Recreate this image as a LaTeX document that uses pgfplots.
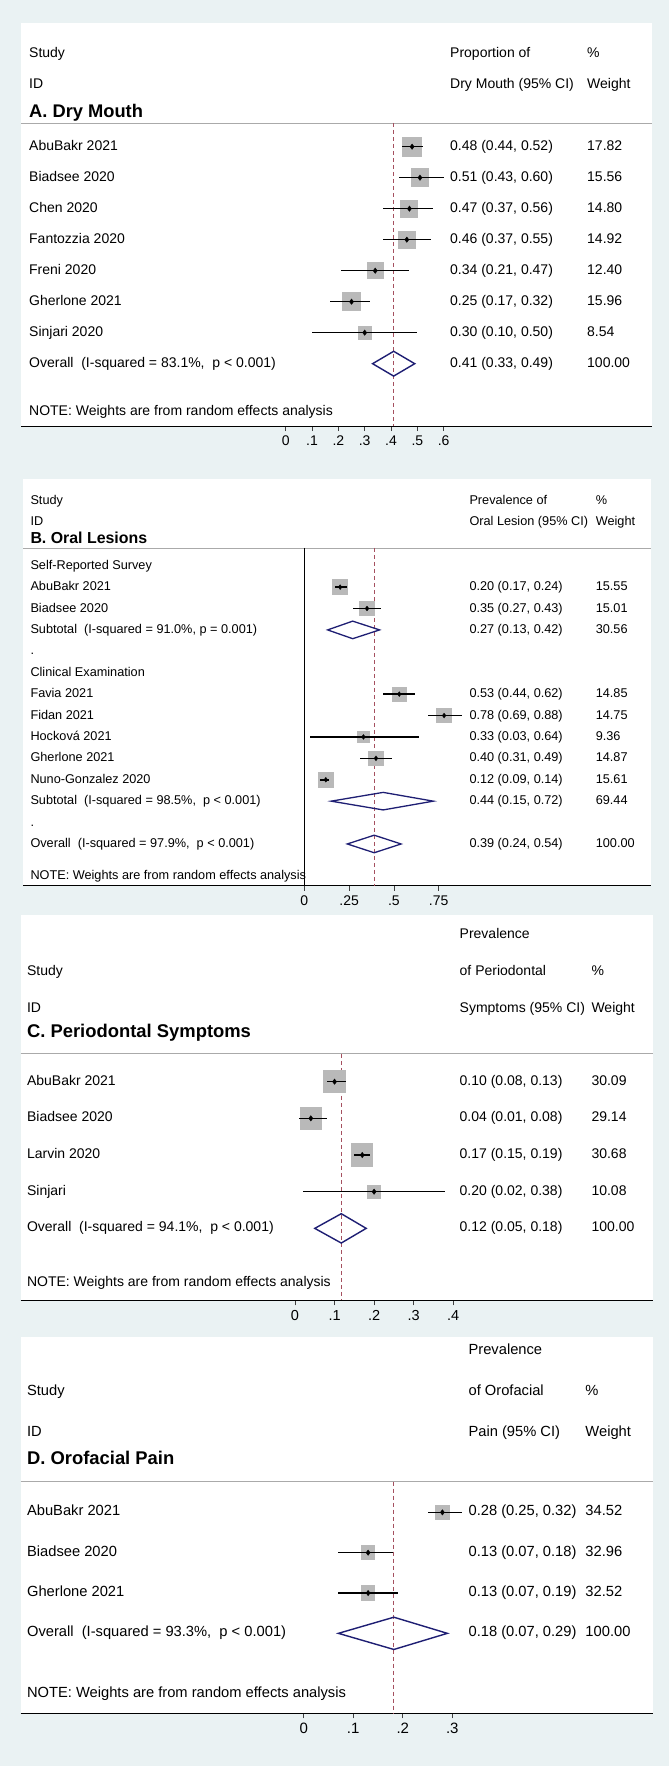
\documentclass[border=0pt]{standalone}
\usepackage{fontspec}
\setmainfont{Liberation Sans}
\usepackage{pgfplots}
\usepackage{pgfplotstable}
\pgfplotsset{compat=1.18}
\definecolor{bgc}{RGB}{234,242,243}
\definecolor{boxgray}{RGB}{185,185,185}
\definecolor{navyd}{RGB}{30,30,115}
\definecolor{refred}{RGB}{165,80,95}
\definecolor{hdrgray}{RGB}{170,170,170}

\pgfplotstableread{
row est lo hi w
1 0.48 0.44 0.52 17.82
2 0.51 0.43 0.60 15.56
3 0.47 0.37 0.56 14.80
4 0.46 0.37 0.55 14.92
5 0.34 0.21 0.47 12.40
6 0.25 0.17 0.32 15.96
7 0.30 0.10 0.50 8.54
}\tA
\pgfplotstableread{
row est lo hi w
2 0.20 0.17 0.24 15.55
3 0.35 0.27 0.43 15.01
7 0.53 0.44 0.62 14.85
8 0.78 0.69 0.88 14.75
9 0.33 0.03 0.64 9.36
10 0.40 0.31 0.49 14.87
11 0.12 0.09 0.14 15.61
}\tB
\pgfplotstableread{
row est lo hi w
1 0.10 0.08 0.13 30.09
2 0.04 0.01 0.08 29.14
3 0.17 0.15 0.19 30.68
4 0.20 0.02 0.38 10.08
}\tC
\pgfplotstableread{
row est lo hi w
1 0.28 0.25 0.32 34.52
2 0.13 0.07 0.18 32.96
3 0.13 0.07 0.19 32.52
}\tD

\newcommand\fA{\fontsize{14}{16}\selectfont}
\newcommand\hA{\fontsize{18.3}{20}\selectfont\bfseries}
\newcommand\fB{\fontsize{12.7}{14}\selectfont}
\newcommand\hB{\fontsize{15.9}{18}\selectfont\bfseries}
\newcommand\fC{\fontsize{14}{16}\selectfont}
\newcommand\hC{\fontsize{18.4}{20}\selectfont\bfseries}
\newcommand\fD{\fontsize{14.7}{16}\selectfont}
\newcommand\hD{\fontsize{18.4}{20}\selectfont\bfseries}

\pgfplotsset{
  fp/.style={scale only axis, clip=false, clip marker paths=true,
    axis x line=bottom, axis y line=none,
    axis line style={-, black, line width=1pt},
    ytick=\empty, tick align=outside,
    major tick length=5pt,
    xtick style={black!75, line width=0.8pt},
    axis background/.style={fill=white},
    anchor=south west,
    xticklabel style={font=\fontsize{14}{14}\selectfont, yshift=-1.5pt}},
  boxes/.style={scatter, only marks, mark=square*,
    scatter/use mapped color={draw=boxgray, fill=boxgray},
    mark options={line width=0pt},
    visualization depends on={#1*sqrt(\thisrow{w}) \as \msz},
    scatter/@pre marker code/.append style={/tikz/mark size=\msz}},
  cis/.style={only marks, mark=diamond*, mark size=2.7pt, black,
    error bars/x dir=both, error bars/x explicit, error bars/error mark=none,
    error bars/error bar style={line width=1.5pt, black}},
}
\tikzset{txt/.style={anchor=west, inner sep=0pt, text height=0.72em, text depth=0pt}}

\begin{document}
\begin{tikzpicture}
\fill[bgc, use as bounding box] (0,0) rectangle (669pt,-1766pt);

% ---------------- Panel A ----------------
\begin{axis}[fp, at={(21pt,-426pt)}, width=631pt, height=403pt,
  xmin=-1.0053, xmax=1.3912, ymin=-10.01, ymax=2.99,
  xtick={0,0.1,0.2,0.3,0.4,0.5,0.6}, xticklabels={0,.1,.2,.3,.4,.5,.6}]
\addplot[hdrgray, line width=0.8pt] coordinates {(-1.0053,-0.235) (1.3912,-0.235)};
\addplot[refred, line width=0.9pt, dash pattern=on 4pt off 3pt] coordinates {(0.41,-0.235) (0.41,-10.01)};
\addplot[boxes=2.215] table[x=est, y expr=-\thisrow{row}] {\tA};
\addplot[cis] table[x=est, y expr=-\thisrow{row}, x error plus expr=\thisrow{hi}-\thisrow{est}, x error minus expr=\thisrow{est}-\thisrow{lo}] {\tA};
\addplot[navyd, line width=1.4pt, line join=miter] coordinates {(0.33,-8) (0.41,-7.6) (0.49,-8) (0.41,-8.4)} -- cycle;
\begin{scope}[every node/.style={txt, font=\fA}]
\node at (axis cs:-0.975,2) {Study};
\node at (axis cs:-0.975,1) {ID};
\node[font=\hA] at (axis cs:-0.975,0.055) {A. Dry Mouth};
\node at (axis cs:0.624,2) {Proportion of};
\node at (axis cs:0.624,1) {Dry Mouth (95\% CI)};
\node at (axis cs:1.1443,2) {\%};
\node at (axis cs:1.1443,1) {Weight};
\node at (axis cs:-0.975,-1) {AbuBakr 2021};
\node at (axis cs:-0.975,-2) {Biadsee 2020};
\node at (axis cs:-0.975,-3) {Chen 2020};
\node at (axis cs:-0.975,-4) {Fantozzia 2020};
\node at (axis cs:-0.975,-5) {Freni 2020};
\node at (axis cs:-0.975,-6) {Gherlone 2021};
\node at (axis cs:-0.975,-7) {Sinjari 2020};
\node at (axis cs:-0.975,-8) {Overall~~(I-squared = 83.1\%,~~p < 0.001)};
\node at (axis cs:-0.975,-9.55) {NOTE: Weights are from random effects analysis};
\node at (axis cs:0.624,-1) {0.48 (0.44, 0.52)};
\node at (axis cs:0.624,-2) {0.51 (0.43, 0.60)};
\node at (axis cs:0.624,-3) {0.47 (0.37, 0.56)};
\node at (axis cs:0.624,-4) {0.46 (0.37, 0.55)};
\node at (axis cs:0.624,-5) {0.34 (0.21, 0.47)};
\node at (axis cs:0.624,-6) {0.25 (0.17, 0.32)};
\node at (axis cs:0.624,-7) {0.30 (0.10, 0.50)};
\node at (axis cs:0.624,-8) {0.41 (0.33, 0.49)};
\node at (axis cs:1.1443,-1) {17.82};
\node at (axis cs:1.1443,-2) {15.56};
\node at (axis cs:1.1443,-3) {14.80};
\node at (axis cs:1.1443,-4) {14.92};
\node at (axis cs:1.1443,-5) {12.40};
\node at (axis cs:1.1443,-6) {15.96};
\node at (axis cs:1.1443,-7) {8.54};
\node at (axis cs:1.1443,-8) {100.00};
\end{scope}
\end{axis}

% ---------------- Panel B ----------------
\begin{axis}[fp, at={(23.5pt,-885.7pt)}, width=627.5pt, height=406.7pt,
  xmin=-1.567, xmax=1.9347, ymin=-15.95, ymax=3.05,
  xtick={0,0.25,0.5,0.75}, xticklabels={0,.25,.5,.75}]
\addplot[hdrgray, line width=0.8pt] coordinates {(-1.567,-0.17) (1.9347,-0.17)};
\addplot[black, line width=1pt] coordinates {(0,-0.17) (0,-15.95)};
\addplot[refred, line width=0.9pt, dash pattern=on 4pt off 3pt] coordinates {(0.39,-0.17) (0.39,-15.95)};
\addplot[boxes=1.85] table[x=est, y expr=-\thisrow{row}] {\tB};
\addplot[cis, mark size=2.4pt] table[x=est, y expr=-\thisrow{row}, x error plus expr=\thisrow{hi}-\thisrow{est}, x error minus expr=\thisrow{est}-\thisrow{lo}] {\tB};
\addplot[navyd, line width=1.3pt, line join=miter] coordinates {(0.13,-4) (0.27,-3.59) (0.42,-4) (0.27,-4.41)} -- cycle;
\addplot[navyd, line width=1.3pt, line join=miter] coordinates {(0.15,-12) (0.44,-11.59) (0.72,-12) (0.44,-12.41)} -- cycle;
\addplot[navyd, line width=1.3pt, line join=miter] coordinates {(0.24,-14) (0.39,-13.59) (0.54,-14) (0.39,-14.41)} -- cycle;
\begin{scope}[every node/.style={txt, font=\fB}]
\node at (axis cs:-1.529,2.02) {Study};
\node at (axis cs:-1.529,1.04) {ID};
\node[font=\hB] at (axis cs:-1.529,0.2) {B. Oral Lesions};
\node at (axis cs:0.9208,2.02) {Prevalence of};
\node at (axis cs:0.9208,1.04) {Oral Lesion (95\% CI)};
\node at (axis cs:1.6256,2.02) {\%};
\node at (axis cs:1.6256,1.04) {Weight};
\node at (axis cs:-1.529,-1) {Self-Reported Survey};
\node at (axis cs:-1.529,-2) {AbuBakr 2021};
\node at (axis cs:-1.529,-3) {Biadsee 2020};
\node at (axis cs:-1.529,-4) {Subtotal~~(I-squared = 91.0\%, p = 0.001)};
\node at (axis cs:-1.529,-5) {.};
\node at (axis cs:-1.529,-6) {Clinical Examination};
\node at (axis cs:-1.529,-7) {Favia 2021};
\node at (axis cs:-1.529,-8) {Fidan 2021};
\node at (axis cs:-1.529,-9) {Hocková 2021};
\node at (axis cs:-1.529,-10) {Gherlone 2021};
\node at (axis cs:-1.529,-11) {Nuno-Gonzalez 2020};
\node at (axis cs:-1.529,-12) {Subtotal~~(I-squared = 98.5\%,~~p < 0.001)};
\node at (axis cs:-1.529,-13) {.};
\node at (axis cs:-1.529,-14) {Overall~~(I-squared = 97.9\%,~~p < 0.001)};
\node at (axis cs:-1.529,-15.47) {NOTE: Weights are from random effects analysis};
\node at (axis cs:0.9208,-2) {0.20 (0.17, 0.24)};
\node at (axis cs:0.9208,-3) {0.35 (0.27, 0.43)};
\node at (axis cs:0.9208,-4) {0.27 (0.13, 0.42)};
\node at (axis cs:0.9208,-7) {0.53 (0.44, 0.62)};
\node at (axis cs:0.9208,-8) {0.78 (0.69, 0.88)};
\node at (axis cs:0.9208,-9) {0.33 (0.03, 0.64)};
\node at (axis cs:0.9208,-10) {0.40 (0.31, 0.49)};
\node at (axis cs:0.9208,-11) {0.12 (0.09, 0.14)};
\node at (axis cs:0.9208,-12) {0.44 (0.15, 0.72)};
\node at (axis cs:0.9208,-14) {0.39 (0.24, 0.54)};
\node at (axis cs:1.6256,-2) {15.55};
\node at (axis cs:1.6256,-3) {15.01};
\node at (axis cs:1.6256,-4) {30.56};
\node at (axis cs:1.6256,-7) {14.85};
\node at (axis cs:1.6256,-8) {14.75};
\node at (axis cs:1.6256,-9) {9.36};
\node at (axis cs:1.6256,-10) {14.87};
\node at (axis cs:1.6256,-11) {15.61};
\node at (axis cs:1.6256,-12) {69.44};
\node at (axis cs:1.6256,-14) {100.00};
\end{scope}
\end{axis}

% ---------------- Panel C ----------------
\begin{axis}[fp, at={(20.5pt,-1300.3pt)}, width=632.2pt, height=385.3pt,
  xmin=-0.694, xmax=0.9044, ymin=-6.962, ymax=3.545,
  xtick={0,0.1,0.2,0.3,0.4}, xticklabels={0,.1,.2,.3,.4},
  xticklabel style={font=\fontsize{14.5}{14.5}\selectfont}]
\addplot[hdrgray, line width=0.8pt] coordinates {(-0.694,-0.24) (0.9044,-0.24)};
\addplot[refred, line width=0.9pt, dash pattern=on 4pt off 3pt] coordinates {(0.117,-0.24) (0.117,-6.962)};
\addplot[boxes=1.925, mark options={line width=0pt, yscale=1.07}] table[x=est, y expr=-\thisrow{row}] {\tC};
\addplot[cis] table[x=est, y expr=-\thisrow{row}, x error plus expr=\thisrow{hi}-\thisrow{est}, x error minus expr=\thisrow{est}-\thisrow{lo}] {\tC};
\addplot[navyd, line width=1.4pt, line join=miter] coordinates {(0.05,-5) (0.117,-4.6) (0.18,-5) (0.117,-5.4)} -- cycle;
\begin{scope}[every node/.style={txt, font=\fC}]
\node at (axis cs:0.4159,3) {Prevalence};
\node at (axis cs:-0.6779,2) {Study};
\node at (axis cs:0.4159,2) {of Periodontal};
\node at (axis cs:0.7492,2) {\%};
\node at (axis cs:-0.6779,0.98) {ID};
\node at (axis cs:0.4159,0.98) {Symptoms (95\% CI)};
\node at (axis cs:0.7492,0.98) {Weight};
\node[font=\hC] at (axis cs:-0.6779,0.29) {C. Periodontal Symptoms};
\node at (axis cs:-0.6779,-1) {AbuBakr 2021};
\node at (axis cs:-0.6779,-2) {Biadsee 2020};
\node at (axis cs:-0.6779,-3) {Larvin 2020};
\node at (axis cs:-0.6779,-4) {Sinjari};
\node at (axis cs:-0.6779,-5) {Overall~~(I-squared = 94.1\%,~~p < 0.001)};
\node at (axis cs:-0.6779,-6.5) {NOTE: Weights are from random effects analysis};
\node at (axis cs:0.4159,-1) {0.10 (0.08, 0.13)};
\node at (axis cs:0.4159,-2) {0.04 (0.01, 0.08)};
\node at (axis cs:0.4159,-3) {0.17 (0.15, 0.19)};
\node at (axis cs:0.4159,-4) {0.20 (0.02, 0.38)};
\node at (axis cs:0.4159,-5) {0.12 (0.05, 0.18)};
\node at (axis cs:0.7492,-1) {30.09};
\node at (axis cs:0.7492,-2) {29.14};
\node at (axis cs:0.7492,-3) {30.68};
\node at (axis cs:0.7492,-4) {10.08};
\node at (axis cs:0.7492,-5) {100.00};
\end{scope}
\end{axis}

% ---------------- Panel D ----------------
\begin{axis}[fp, at={(20.5pt,-1713.3pt)}, width=632.2pt, height=376pt,
  xmin=-0.5718, xmax=0.7046, ymin=-5.983, ymax=3.34,
  xtick={0,0.1,0.2,0.3}, xticklabels={0,.1,.2,.3},
  xticklabel style={font=\fontsize{15}{15}\selectfont}]
\addplot[hdrgray, line width=0.8pt] coordinates {(-0.5718,-0.24) (0.7046,-0.24)};
\addplot[refred, line width=0.9pt, dash pattern=on 4pt off 3pt] coordinates {(0.182,-0.24) (0.182,-5.983)};
\addplot[boxes=1.165, mark options={line width=0pt, yscale=1.07}] table[x=est, y expr=-\thisrow{row}] {\tD};
\addplot[cis] table[x=est, y expr=-\thisrow{row}, x error plus expr=\thisrow{hi}-\thisrow{est}, x error minus expr=\thisrow{est}-\thisrow{lo}] {\tD};
\addplot[navyd, line width=1.4pt, line join=miter] coordinates {(0.07,-4) (0.182,-3.6) (0.29,-4) (0.182,-4.4)} -- cycle;
\begin{scope}[every node/.style={txt, font=\fD}]
\node at (axis cs:0.3325,3) {Prevalence};
\node at (axis cs:-0.5589,1.98) {Study};
\node at (axis cs:0.3325,1.98) {of Orofacial};
\node at (axis cs:0.5685,1.98) {\%};
\node at (axis cs:-0.5589,0.98) {ID};
\node at (axis cs:0.3325,0.98) {Pain (95\% CI)};
\node at (axis cs:0.5685,0.98) {Weight};
\node[font=\hD] at (axis cs:-0.5589,0.27) {D. Orofacial Pain};
\node at (axis cs:-0.5589,-1) {AbuBakr 2021};
\node at (axis cs:-0.5589,-2) {Biadsee 2020};
\node at (axis cs:-0.5589,-3) {Gherlone 2021};
\node at (axis cs:-0.5589,-4) {Overall~~(I-squared = 93.3\%,~~p < 0.001)};
\node at (axis cs:-0.5589,-5.51) {NOTE: Weights are from random effects analysis};
\node at (axis cs:0.3325,-1) {0.28 (0.25, 0.32)};
\node at (axis cs:0.3325,-2) {0.13 (0.07, 0.18)};
\node at (axis cs:0.3325,-3) {0.13 (0.07, 0.19)};
\node at (axis cs:0.3325,-4) {0.18 (0.07, 0.29)};
\node at (axis cs:0.5685,-1) {34.52};
\node at (axis cs:0.5685,-2) {32.96};
\node at (axis cs:0.5685,-3) {32.52};
\node at (axis cs:0.5685,-4) {100.00};
\end{scope}
\end{axis}
\end{tikzpicture}
\end{document}
